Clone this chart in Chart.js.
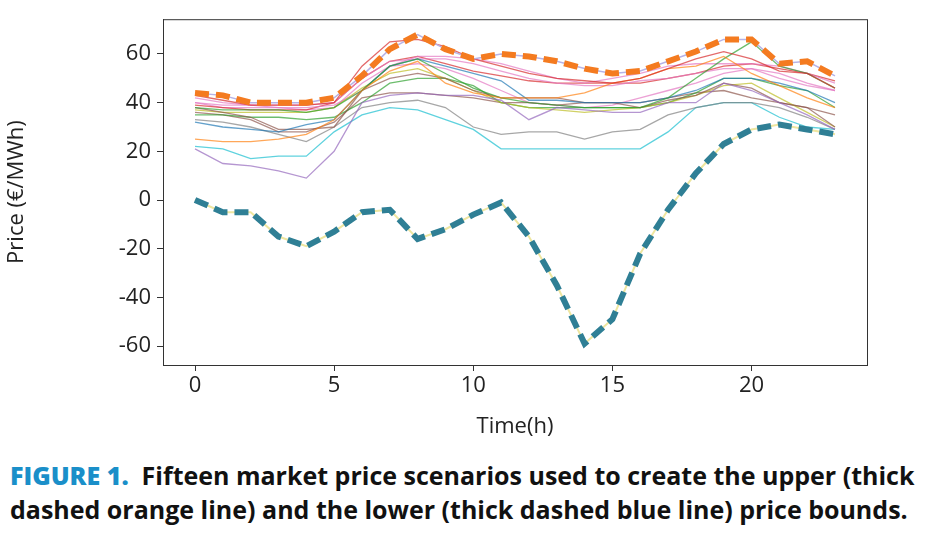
<!DOCTYPE html>
<html>
<head>
<meta charset="utf-8">
<script src="https://cdn.jsdelivr.net/npm/chart.js@4"></script>
<style>
  body { margin: 0; background: #fff; font-family: "Open Sans", sans-serif; }
  #wrap { width: 950px; height: 440px; }
  .cap { position: absolute; left: 10px; top: 458px; font-family: "Open Sans", sans-serif;
         font-weight: bold; font-size: 25px; line-height: 34px; color: #111; white-space: nowrap; }
  .cap b { color: #1a8fc9; }
</style>
</head>
<body>
<div id="wrap"><canvas id="grafico"></canvas></div>
<div class="cap"><b>FIGURE 1.</b>&nbsp; Fifteen market price scenarios used to create the upper (thick<br>dashed orange line) and the lower (thick dashed blue line) price bounds.</div>
<script>
const horas = [0,1,2,3,4,5,6,7,8,9,10,11,12,13,14,15,16,17,18,19,20,21,22,23];
const ticksX = [0, 5, 10, 15, 20];
const ticksY = [-60, -40, -20, 0, 20, 40, 60];

const escenarios = [
  [43,41,39,39,39,40,55,65,66,63,58,55,52,50,49,48,50,54,58,61,58,53,52,46],
  [25,24,24,25,27,33,45,53,57,48,44,42,42,42,44,48,50,54,55,59,52,47,42,38],
  [38,37,37,37,36,38,45,55,58,52,46,42,40,39,38,38,38,42,50,58,65,55,52,46],
  [32,30,29,28,31,33,45,55,58,55,52,49,41,41,40,40,40,42,45,50,50,48,45,40],
  [21,15,14,12,9,20,40,43,44,43,43,41,33,38,37,36,36,40,40,48,45,40,35,29],
  [38,36,34,29,29,30,45,50,52,50,45,42,42,42,40,40,38,41,43,48,46,40,38,30],
  [42,40,39,39,39,40,50,57,58,58,56,53,50,48,47,47,49,50,52,54,54,52,48,45],
  [33,32,30,27,24,30,38,40,41,38,30,27,28,28,25,28,29,35,38,40,40,38,34,29],
  [37,36,36,36,36,38,46,52,54,50,45,40,38,37,36,37,38,40,43,47,48,42,36,30],
  [22,21,17,18,18,28,35,38,37,33,29,21,21,21,21,21,21,28,38,40,40,34,30,29],
  [35,35,34,34,33,34,40,48,50,50,47,40,38,38,38,38,38,40,44,50,50,47,45,38],
  [36,35,33,28,28,32,42,44,44,43,42,40,40,39,40,40,40,42,44,45,42,40,38,35],
  [40,39,39,38,38,39,45,55,59,59,58,56,53,50,48,50,52,55,56,56,56,55,52,48],
  [39,38,37,37,37,40,50,57,59,56,53,51,49,48,48,48,48,50,52,55,56,54,52,49],
  [40,38,38,38,37,38,48,55,56,54,50,45,40,39,38,39,42,45,48,52,54,50,47,45]
];
const coloresEscenario = ["#d62728","#ff7f0e","#2ca02c","#1f77b4","#9467bd","#8c564b","#e377c2",
  "#7f7f7f","#bcbd22","#17becf","#2ca02c","#8c564b","#e377c2","#d62728","#e377c2"];

const limiteSuperior = [44,43,40,40,40,42,51,62,68,62,58,60,59,57,54,52,53,57,61,66,66,56,57,51];
const limiteInferior = [0,-5,-5,-15,-19,-13,-5,-4,-16,-12,-6,-1,-15,-35,-59,-49,-22,-4,11,23,29,31,29,27];

const aPuntos = arr => arr.map((v, i) => ({ x: horas[i], y: v }));

// order más alto se dibuja primero (debajo)
const datasets = escenarios.map((serie, i) => ({
  data: aPuntos(serie), borderColor: coloresEscenario[i] + "b0", borderWidth: 1.3,
  pointRadius: 0, order: 3
}));
datasets.push(
  { data: aPuntos(limiteSuperior), borderColor: "#b7b3e6", borderWidth: 1.5, pointRadius: 0, order: 2 },
  { data: aPuntos(limiteSuperior), borderColor: "#f47b20", borderWidth: 6, borderDash: [14, 7], pointRadius: 0, order: 1 },
  { data: aPuntos(limiteInferior), borderColor: "#eee6a0", borderWidth: 2, pointRadius: 0, order: 2 },
  { data: aPuntos(limiteInferior), borderColor: "#2f7f95", borderWidth: 6, borderDash: [14, 7], pointRadius: 0, order: 1 }
);

const marco = {
  id: "marco",
  afterDatasetsDraw(chart) {
    const { ctx, chartArea: a } = chart;
    ctx.save();
    ctx.strokeStyle = "#333";
    ctx.lineWidth = 1;
    ctx.strokeRect(a.left + 0.5, a.top + 0.5, a.right - a.left, a.bottom - a.top);
    ctx.restore();
  }
};

const fuente = { family: "'Open Sans', sans-serif", size: 22 };

new Chart(document.getElementById("grafico"), {
  type: "line",
  data: { datasets },
  plugins: [marco],
  options: {
    responsive: true, maintainAspectRatio: false, animation: false,
    layout: { padding: { top: 17, right: 83, left: 0, bottom: 0 } },
    plugins: { legend: { display: false }, tooltip: { enabled: false } },
    scales: {
      x: {
        type: "linear", min: -1.15, max: 24.15,
        afterBuildTicks: s => { s.ticks = ticksX.map(v => ({ value: v })); },
        afterFit: s => { s.height = 75; },
        ticks: { font: fuente, color: "#222", padding: 2 },
        grid: { drawOnChartArea: false, tickLength: 6, color: "#333" },
        border: { color: "#333" },
        title: { display: true, text: "Time(h)", font: fuente, color: "#222", padding: 0 }
      },
      y: {
        min: -67.8, max: 74.3,
        afterBuildTicks: s => { s.ticks = ticksY.map(v => ({ value: v })); },
        afterFit: s => { s.width = 163; },
        ticks: { font: fuente, color: "#222", padding: 6 },
        grid: { drawOnChartArea: false, tickLength: 6, color: "#333" },
        border: { color: "#333" },
        title: { display: true, text: "Price (€/MWh)", font: fuente, color: "#222", padding: 4 }
      }
    }
  }
});
</script>
</body>
</html>
